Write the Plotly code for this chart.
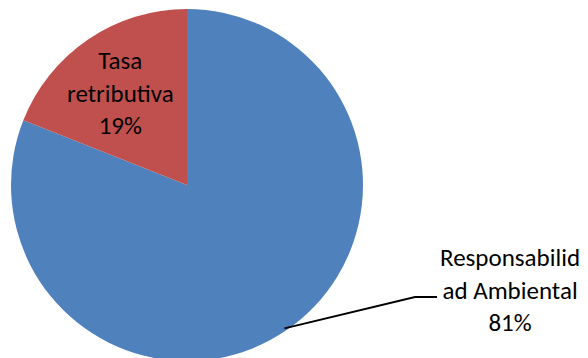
import math
import plotly.graph_objects as go

# Data
labels = ["Responsabilidad Ambiental", "Tasa retributiva"]
label_lines = ["Responsabilid<br>ad Ambiental", "Tasa<br>retributiva"]
values = [81, 19]
colors = ["#4F81BD", "#C0504D"]

# Page geometry (pixels)
W, H = 588, 362
cx, cy, r = 187, 185, 176


def px(x):
    return x / W


def py(y):
    return 1 - y / H


total = sum(values)
pcts = [round(100 * v / total) for v in values]

fig = go.Figure(
    go.Pie(
        labels=labels,
        values=values,
        sort=False,
        direction="clockwise",
        rotation=0,
        marker=dict(colors=colors, line=dict(width=0)),
        textinfo="none",
        hoverinfo="label+percent",
        showlegend=False,
        domain=dict(x=[px(cx - r), px(cx + r)], y=[py(cy + r), py(cy - r)]),
    )
)

font = dict(family="Calibri, Carlito, Lato, sans-serif", size=25, color="#000000")

# Leader line from the middle of the large slice to its label
mid = 0.5 * values[0] / total * 2 * math.pi
ax0 = cx + 0.985 * r * math.sin(mid)
ay0 = cy - 0.985 * r * math.cos(mid)
path = (
    f"M {px(ax0)},{py(ay0)} L {px(415)},{py(297)} L {px(437)},{py(297)}"
)
fig.add_shape(type="path", path=path, xref="paper", yref="paper",
              line=dict(color="#000000", width=2))

fig.add_annotation(
    x=px(510), y=py(290), xref="paper", yref="paper",
    text=f"{label_lines[0]}<br>{pcts[0]}%",
    showarrow=False, font=font, align="center",
    xanchor="center", yanchor="middle",
)
fig.add_annotation(
    x=px(120), y=py(93), xref="paper", yref="paper",
    text=f"{label_lines[1]}<br>{pcts[1]}%",
    showarrow=False, font=font, align="center",
    xanchor="center", yanchor="middle",
)

fig.update_layout(
    width=W, height=H,
    margin=dict(l=0, r=0, t=0, b=0),
    paper_bgcolor="#FFFFFF",
    plot_bgcolor="#FFFFFF",
)

fig.write_html("out.html")
